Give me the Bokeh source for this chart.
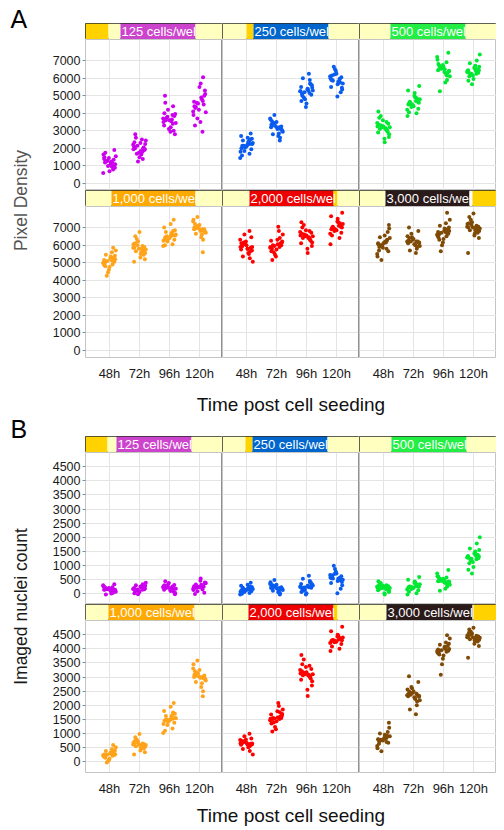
import math
from bokeh.plotting import figure
from bokeh.layouts import row, column
from bokeh.models import Range1d, FixedTicker, Span, Grid
from bokeh.core.properties import value
from bokeh.embed import file_html
from bokeh.resources import INLINE

# ---------------- data ----------------
times = ["48h", "72h", "96h", "120h"]
strip_labels = ["125 cells/wel", "250 cells/wel", "500 cells/wel",
                "1,000 cells/wel", "2,000 cells/wel", "3,000 cells/wel"]
pd_ticks = [0, 1000, 2000, 3000, 4000, 5000, 6000, 7000]
nc_ticks = [0, 500, 1000, 1500, 2000, 2500, 3000, 3500, 4000, 4500]

# Pixel density (panel A), one list per time point
pd_125 = [
    [1200, 950, 1450, 1100, 1650, 800, 1300, 1050, 1900, 1250, 700, 1400, 1150, 1550, 1000, 1350, 600, 1250, 1750, 900, 1300, 1100, 1500, 1200],
    [2000, 1700, 2300, 1900, 2600, 1500, 2100, 1800, 2450, 1250, 2050, 2200, 1650, 2800, 1950, 2150, 1400, 2350, 1850, 2000, 2500, 1750, 2250, 1950],
    [3600, 3300, 3900, 3450, 4200, 3000, 3700, 3550, 4600, 2800, 3800, 3400, 4000, 3200, 5000, 3650, 3100, 3950, 3500, 4400, 3750, 2950, 3850, 3600],
    [4500, 4100, 4900, 4300, 5300, 3700, 4700, 4400, 5700, 3300, 4800, 4200, 5100, 3900, 6050, 4600, 3500, 5000, 4350, 5500, 4650, 2950, 4050, 4550],
]
pd_250 = [
    [2200, 1950, 2450, 2100, 2700, 1700, 2300, 2050, 2850, 1450, 2350, 2150, 2550, 1850, 2250, 2000, 2600, 1600, 2400, 2100, 2250, 1800, 2500, 2150],
    [3200, 2950, 3450, 3100, 3700, 2700, 3300, 3050, 3900, 2450, 3350, 3150, 3550, 2850, 3250, 3000, 3650, 2600, 3400, 3100, 3250, 2800, 3500, 3200],
    [5300, 5000, 5600, 5200, 5900, 4700, 5400, 5100, 6250, 4350, 5450, 5250, 5700, 4900, 5350, 5050, 6000, 4550, 5500, 5150, 5300, 4800, 5650, 5250],
    [5900, 5650, 6150, 5800, 6400, 5350, 6000, 5750, 6650, 4950, 6050, 5850, 6250, 5500, 5950, 5700, 6500, 5200, 6100, 5800, 5900, 5450, 6200, 5950],
]
pd_500 = [
    [3200, 2950, 3450, 3100, 3750, 2650, 3300, 3050, 4100, 2350, 3350, 3150, 3600, 2800, 3250, 3000, 3850, 2550, 3400, 3100, 3250, 2900, 3500, 3200],
    [4600, 4350, 4850, 4500, 5150, 4050, 4700, 4450, 5550, 3850, 4750, 4550, 5000, 4250, 4650, 4400, 5300, 4000, 4800, 4500, 4650, 4200, 4900, 4600],
    [6500, 6250, 6750, 6400, 7050, 5900, 6600, 6350, 7450, 5250, 6650, 6450, 6900, 6100, 6550, 6300, 7200, 5750, 6700, 6400, 6550, 6150, 6800, 6500],
    [6400, 6200, 6600, 6300, 6850, 5950, 6450, 6250, 7350, 5650, 6500, 6350, 6700, 6100, 6450, 6250, 7000, 5850, 6550, 6300, 6400, 6150, 6650, 6400],
]
pd_1000 = [
    [5100, 4850, 5350, 5000, 5600, 4600, 5200, 4950, 5850, 4250, 5250, 5050, 5450, 4750, 5150, 4900, 5700, 4450, 5300, 5000, 5150, 4800, 5400, 5100],
    [5800, 5550, 6050, 5700, 6350, 5300, 5900, 5650, 6750, 5050, 5950, 5750, 6200, 5450, 5850, 5600, 6500, 5200, 6000, 5700, 5850, 5500, 6100, 5800],
    [6500, 6300, 6750, 6400, 7000, 6050, 6600, 6350, 7450, 5950, 6650, 6450, 6850, 6200, 6550, 6300, 7200, 6000, 6700, 6400, 6550, 6250, 6800, 6500],
    [6900, 6700, 7100, 6800, 7350, 6450, 6950, 6750, 7600, 5600, 7000, 6850, 7200, 6600, 6950, 6750, 7450, 6300, 7050, 6800, 6900, 6650, 7150, 6900],
]
pd_2000 = [
    [5900, 5650, 6150, 5800, 6450, 5350, 6000, 5750, 6800, 5050, 6050, 5850, 6300, 5550, 5950, 5700, 6600, 5250, 6100, 5800, 5950, 5500, 6200, 5900],
    [6000, 5750, 6250, 5900, 6600, 5450, 6100, 5850, 7050, 5150, 6150, 5950, 6400, 5650, 6050, 5800, 6800, 5350, 6200, 5900, 6050, 5600, 6300, 6000],
    [6500, 6250, 6750, 6400, 7000, 5950, 6600, 6350, 7300, 5550, 6650, 6450, 6850, 6150, 6550, 6300, 7150, 5800, 6700, 6400, 6550, 6100, 6800, 6500],
    [7000, 6800, 7250, 6900, 7500, 6550, 7100, 6850, 7850, 6050, 7150, 6950, 7350, 6700, 7050, 6850, 7650, 6400, 7200, 6900, 7050, 6650, 7300, 7000],
]
pd_3000 = [
    [6100, 5800, 6400, 6000, 6750, 5500, 6200, 5900, 7150, 5150, 6250, 6050, 6550, 5700, 6150, 5850, 6950, 5350, 6300, 6000, 6150, 5650, 6450, 6100],
    [6200, 6000, 6400, 6100, 6650, 5800, 6250, 6050, 7000, 5550, 6300, 6150, 6500, 5900, 6200, 6050, 6800, 5700, 6350, 6100, 6200, 5950, 6450, 6200],
    [6700, 6450, 6950, 6600, 7250, 6150, 6800, 6550, 7850, 5650, 6850, 6650, 7100, 6350, 6750, 6500, 7450, 6000, 6900, 6600, 6750, 6300, 7000, 6700],
    [7000, 6800, 7200, 6900, 7450, 6550, 7050, 6850, 7800, 5550, 7100, 6950, 7300, 6700, 7050, 6850, 7600, 6400, 7150, 6900, 7000, 6650, 7250, 7000],
]

# Imaged nuclei count (panel B)
nc_125 = [
    [150, 100, 200, 130, 260, 40, 170, 110, 340, -30, 190, 140, 230, 70, 160, 120, 300, 10, 210, 130, 170, 80, 240, 150],
    [180, 120, 240, 160, 300, 60, 200, 140, 390, -20, 220, 170, 270, 90, 190, 150, 340, 20, 250, 160, 200, 100, 280, 180],
    [200, 140, 260, 180, 330, 70, 220, 160, 440, -20, 240, 190, 300, 100, 210, 170, 380, 30, 270, 180, 220, 120, 310, 200],
    [250, 180, 320, 230, 400, 90, 270, 200, 540, -10, 290, 240, 370, 130, 260, 210, 460, 40, 330, 230, 270, 150, 380, 250],
]
nc_250 = [
    [150, 90, 210, 140, 280, 30, 170, 110, 390, -30, 200, 130, 240, 60, 160, 120, 320, 0, 220, 140, 180, 70, 250, 150],
    [200, 130, 270, 180, 350, 50, 220, 160, 490, -30, 250, 190, 310, 90, 210, 170, 410, 10, 280, 180, 230, 110, 320, 200],
    [250, 170, 340, 220, 450, 60, 280, 200, 640, -30, 310, 240, 390, 110, 260, 210, 530, 20, 350, 230, 290, 140, 410, 250],
    [550, 450, 650, 520, 780, 300, 580, 480, 990, 20, 620, 540, 720, 380, 560, 500, 880, 180, 660, 530, 590, 420, 700, 550],
]
nc_500 = [
    [200, 140, 260, 180, 330, 60, 220, 160, 440, -30, 240, 190, 290, 100, 210, 170, 380, 20, 270, 180, 220, 120, 300, 200],
    [250, 170, 330, 220, 430, 70, 270, 200, 590, -30, 300, 240, 380, 120, 260, 210, 500, 20, 340, 230, 280, 150, 400, 250],
    [450, 380, 530, 420, 620, 250, 470, 400, 840, 110, 500, 440, 580, 320, 460, 410, 720, 180, 540, 430, 480, 350, 600, 450],
    [1300, 1180, 1420, 1260, 1600, 950, 1340, 1220, 2000, 720, 1380, 1280, 1500, 1080, 1320, 1240, 1780, 850, 1440, 1270, 1350, 1120, 1550, 1300],
]
nc_1000 = [
    [250, 170, 330, 220, 440, 60, 270, 200, 590, -30, 300, 240, 380, 110, 260, 210, 510, 20, 340, 230, 280, 140, 400, 250],
    [600, 530, 680, 570, 780, 400, 620, 550, 980, 260, 650, 590, 720, 470, 610, 560, 870, 340, 690, 580, 630, 500, 740, 600],
    [1500, 1380, 1620, 1460, 1800, 1180, 1540, 1420, 2080, 1020, 1580, 1480, 1700, 1300, 1520, 1440, 1950, 1100, 1640, 1470, 1550, 1340, 1740, 1500],
    [3000, 2880, 3120, 2960, 3300, 2650, 3040, 2920, 3580, 2320, 3080, 2980, 3200, 2780, 3020, 2940, 3450, 2500, 3140, 2970, 3050, 2820, 3250, 3000],
]
nc_2000 = [
    [650, 570, 730, 620, 820, 450, 670, 600, 990, 260, 700, 640, 770, 510, 660, 610, 900, 380, 740, 630, 680, 540, 790, 650],
    [1550, 1430, 1670, 1510, 1850, 1230, 1590, 1470, 2080, 1070, 1630, 1530, 1750, 1350, 1570, 1490, 1970, 1150, 1690, 1520, 1600, 1390, 1790, 1550],
    [3100, 2950, 3250, 3050, 3450, 2700, 3150, 3000, 3780, 2330, 3200, 3080, 3350, 2850, 3120, 3020, 3620, 2550, 3280, 3060, 3170, 2900, 3400, 3100],
    [4300, 4230, 4380, 4270, 4500, 4080, 4330, 4250, 4780, 3920, 4350, 4290, 4430, 4170, 4310, 4260, 4620, 4000, 4400, 4280, 4340, 4200, 4460, 4300],
]
nc_3000 = [
    [800, 700, 900, 760, 1050, 560, 830, 730, 1380, 370, 870, 790, 960, 640, 820, 750, 1200, 480, 920, 780, 850, 670, 1000, 800],
    [2350, 2220, 2480, 2300, 2650, 2000, 2400, 2260, 3030, 1680, 2440, 2330, 2560, 2130, 2370, 2280, 2820, 1850, 2500, 2320, 2410, 2180, 2600, 2350],
    [3950, 3830, 4070, 3900, 4220, 3650, 3990, 3870, 4480, 3080, 4030, 3930, 4140, 3760, 3970, 3890, 4360, 3450, 4100, 3920, 4000, 3800, 4180, 3950],
    [4400, 4320, 4480, 4370, 4600, 4180, 4430, 4340, 4740, 3680, 4460, 4390, 4540, 4260, 4410, 4360, 4680, 4100, 4500, 4380, 4440, 4290, 4570, 4400],
]

# ---------------- style ----------------
FONT = "Liberation Sans"
PT_COLORS = ["#CC00EE", "#0A5CF0", "#00E832", "#FFA31A", "#FF0000", "#7F4A05"]
BOX_COLORS = ["#CC44CC", "#0066CC", "#22EE44", "#FFAA00", "#EE0000", "#2B1A1A"]
GOLD = "#FFD200"
LY = "#FFFFC0"
JIT = [-0.15, 0.08, -0.02, 0.19, -0.2, 0.12, -0.09, 0.03, 0.16, -0.12, 0.0, -0.18,
       0.1, 0.21, -0.05, 0.14, -0.21, 0.06, -0.14, 0.18, -0.07, 0.11, -0.17, 0.04]
FW = 137
XR = (-0.8, 3.767)
LEFTB = 37
LABW = 48
TICKB = 25

STRIPS_A = [
    [("gold", 0, 23), ("ly", 23, 35), ("box", 35, 110), ("ly", 110, 137)],
    [("ly", 0, 24), ("gold", 24, 31), ("box", 31, 106), ("ly", 106, 137)],
    [("ly", 0, 31), ("box", 31, 106), ("ly", 106, 137)],
    [("ly", 0, 26), ("box", 26, 110), ("ly", 110, 137)],
    [("ly", 0, 27), ("box", 27, 111), ("gold", 111, 115), ("ly", 115, 137)],
    [("ly", 0, 26), ("box", 26, 110), ("w", 110, 113), ("gold", 113, 137)],
]
STRIPS_B = [
    [("gold", 0, 22), ("ly", 22, 31), ("box", 31, 106), ("ly", 106, 137)],
    [("ly", 0, 23), ("gold", 23, 30), ("box", 30, 105), ("ly", 105, 137)],
    [("ly", 0, 32), ("box", 32, 107), ("ly", 107, 137)],
    [("ly", 0, 23), ("box", 23, 109), ("ly", 109, 137)],
    [("ly", 0, 26), ("box", 26, 111), ("gold", 111, 115), ("ly", 115, 137)],
    [("ly", 0, 27), ("box", 27, 113), ("w", 113, 114), ("gold", 114, 137)],
]


def bare(w, h, **kw):
    p = figure(frame_width=w, frame_height=h, x_range=Range1d(0, w), y_range=Range1d(0, h),
               title=None, x_axis_location=None, y_axis_location=None,
               toolbar_location=None, output_backend="svg", **kw)
    p.grid.visible = False
    return p


def make_strip(segs, idx, first, top):
    p = bare(FW, 16, min_border_left=LEFTB if first else 0, min_border_right=0,
             min_border_top=top, min_border_bottom=0)
    p.outline_line_color = "#2b2b2b"
    cmap = {"gold": GOLD, "ly": LY, "box": BOX_COLORS[idx], "w": "white"}
    for kind, a, b in segs:
        p.quad(left=[a], right=[b], bottom=[0], top=[16], fill_color=cmap[kind], line_color=None)
    bx = [a for k, a, b in segs if k == "box"][0]
    p.text(x=[bx + 1], y=[8], text=[strip_labels[idx]], text_font=value(FONT),
           text_font_size="13px", text_color="white", text_baseline="middle", text_align="left")
    return p


def make_facet(groups, idx, yr, ticks, fh, first, last, bottom):
    p = figure(frame_width=FW, frame_height=fh, x_range=Range1d(*XR), y_range=Range1d(*yr),
               min_border_left=LEFTB if first else 0, min_border_right=0,
               min_border_top=0, min_border_bottom=TICKB if bottom else 0, title=None,
               x_axis_location="below" if bottom else None,
               y_axis_location="left" if first else None,
               toolbar_location=None, output_backend="svg")
    p.grid.visible = False
    p.add_layout(Grid(dimension=0, ticker=FixedTicker(ticks=[0, 1, 2, 3]),
                      grid_line_color="#e4e4e4", grid_line_width=1))
    p.add_layout(Grid(dimension=1, ticker=FixedTicker(ticks=ticks),
                      grid_line_color="#e4e4e4", grid_line_width=1))
    p.outline_line_color = "#c4c4c4"
    if bottom:
        ax = p.xaxis[0]
        ax.ticker = FixedTicker(ticks=[0, 1, 2, 3])
        ax.major_label_overrides = {i: t for i, t in enumerate(times)}
        ax.major_tick_line_color = None
        ax.major_tick_out = 0
        ax.major_tick_in = 0
        ax.minor_tick_line_color = None
        ax.minor_tick_out = 0
        ax.axis_line_color = None
        ax.major_label_standoff = 8
        ax.major_label_text_font = FONT
        ax.major_label_text_font_size = "13px"
        ax.major_label_text_color = "#1a1a1a"
    if first:
        ay = p.yaxis[0]
        ay.ticker = FixedTicker(ticks=ticks)
        ay.axis_line_color = None
        ay.major_tick_line_color = "#8a8a8a"
        ay.major_tick_out = 3
        ay.major_tick_in = 0
        ay.minor_tick_line_color = None
        ay.major_label_standoff = 2
        ay.major_label_text_font = FONT
        ay.major_label_text_font_size = "12.5px"
        ay.major_label_text_color = "#1a1a1a"
    for t, vals in enumerate(groups):
        n = len(JIT)
        xs = [t + JIT[(k + 5 * t + 7 * idx) % n] for k in range(len(vals))]
        p.scatter(xs, vals, size=4, fill_color=PT_COLORS[idx], line_color=None)
    if not last:
        p.add_layout(Span(location=XR[1] - 0.02, dimension="height",
                          line_color="#6e6e6e", line_width=1))
    return p


def make_block(data, strips, yr, ticks, fh, top, title_h, title_c, letter, letter_c,
               ylabel, ylabel_color, ylab_center):
    total = top + 16 + fh + 16 + fh + TICKB + title_h
    s1 = row(*[make_strip(strips[i], i, i == 0, top) for i in range(3)])
    r1 = row(*[make_facet(data[i], i, yr, ticks, fh, i == 0, i == 2, False) for i in range(3)])
    s2 = row(*[make_strip(strips[i + 3], i + 3, i == 0, 0) for i in range(3)])
    r2 = row(*[make_facet(data[i + 3], i + 3, yr, ticks, fh, i == 0, i == 2, True) for i in range(3)])
    tw = LEFTB + 3 * FW
    tf = bare(tw, title_h, min_border=0)
    tf.outline_line_color = None
    tf.text(x=[LEFTB + 1.5 * FW], y=[title_h - title_c], text=["Time post cell seeding"],
            text_font=value(FONT), text_font_size="19px", text_color="#111111",
            text_baseline="middle", text_align="center")
    right = column(s1, r1, s2, r2, tf)
    lf = bare(LABW, total, min_border=0)
    lf.outline_line_color = None
    lf.text(x=[10], y=[total - letter_c], text=[letter], text_font=value(FONT),
            text_font_size="25px", text_color="black", text_baseline="middle", text_align="left")
    lf.text(x=[20], y=[total - ylab_center], text=[ylabel], angle=math.pi / 2,
            text_font=value(FONT), text_font_size="17.5px", text_color=ylabel_color,
            text_baseline="middle", text_align="center")
    return row(lf, right)


blockA = make_block([pd_125, pd_250, pd_500, pd_1000, pd_2000, pd_3000], STRIPS_A,
                    (-400, 8200), pd_ticks, 151, 23, 33, 21, "A", 18,
                    "Pixel Density", "#555555", 200)
blockB = make_block([nc_125, nc_250, nc_500, nc_1000, nc_2000, nc_3000], STRIPS_B,
                    (-380, 5000), nc_ticks, 152, 20, 34, 17, "B", 12,
                    "Imaged nuclei count", "#1a1a1a", 190)

page = column(blockA, blockB)
open("out.html", "w").write(file_html(page, INLINE))
